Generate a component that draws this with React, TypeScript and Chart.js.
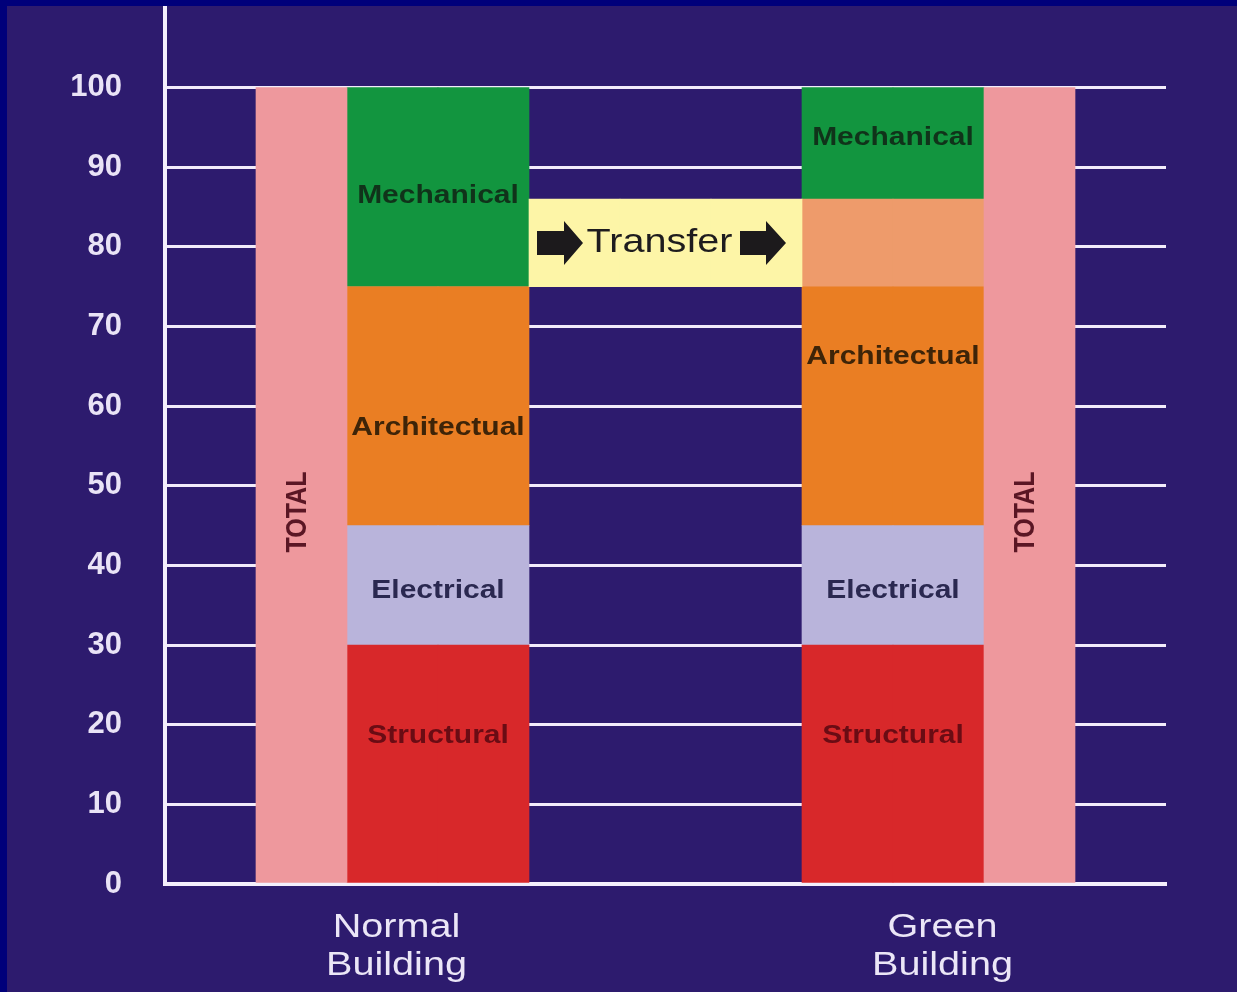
import { useEffect, useRef } from 'react';
import { Chart, registerables } from 'chart.js';

Chart.register(...registerables);

// Cost shares (percent of total) per building type
const buildings = ['Normal Building', 'Green Building'];
const structural = [30, 30];
const electrical = [15, 15];
const architectural = [30, 30];
const transferred = [0, 11];
const mechanical = [25, 14];
const totals = [100, 100];
const transferRange: [number, number] = [75, 86];
const yTickValues = [0, 10, 20, 30, 40, 50, 60, 70, 80, 90, 100];

// Horizontal slots: each building gets a TOTAL column and a two-slot stacked column,
// the transfer band sits in the three slots between them.
const slots = ['gap', 'total0', 'stack0', 'stack0', 'band', 'band', 'band', 'stack1', 'stack1', 'total1', 'gap'];

const segmentNames = ['Structural', 'Electrical', 'Architectual', 'Mechanical'];
const segmentValues = [structural, electrical, architectural, mechanical];
const segmentTextColors = ['#6a0c14', '#2a2850', '#3e2408', '#10331a'];
// value (percent) at which each segment caption sits, per building
const segmentLabelAt = [
  [18.6, 36.8, 57.2, 86.4],
  [18.6, 36.8, 66.1, 93.7],
];
const totalLabelAt = 46.7;

const TEXT_STRETCH = 1.2;
const FONT = '"Liberation Sans", Arial, sans-serif';

const fromStack = (arr: number[]) =>
  slots.map((s) => (s.startsWith('stack') ? arr[Number(s.slice(5))] : null));
const fromTotal = slots.map((s) => (s.startsWith('total') ? totals[Number(s.slice(5))] : null));
const bandData = slots.map((s) => (s === 'band' ? transferRange : null));

function slotSpan(chart: any, role: string) {
  const x = chart.scales.x;
  const idx = slots.map((s, i) => (s === role ? i : -1)).filter((i) => i >= 0);
  const w = x.getPixelForValue(1) - x.getPixelForValue(0);
  const left = x.getPixelForValue(idx[0]) - w / 2;
  const right = x.getPixelForValue(idx[idx.length - 1]) + w / 2;
  return { left, right, center: (left + right) / 2, w };
}

function stretchedText(
  ctx: CanvasRenderingContext2D,
  text: string,
  x: number,
  y: number,
  font: string,
  color: string,
  rotate = 0
) {
  ctx.save();
  ctx.translate(x, y);
  ctx.scale(TEXT_STRETCH, 1);
  if (rotate) ctx.rotate(rotate);
  ctx.font = font;
  ctx.fillStyle = color;
  ctx.textAlign = 'center';
  ctx.textBaseline = 'middle';
  ctx.fillText(text, 0, 0);
  ctx.restore();
}

function arrow(ctx: CanvasRenderingContext2D, x0: number, x1: number, headStart: number, cy: number) {
  ctx.beginPath();
  ctx.moveTo(x0, cy - 12);
  ctx.lineTo(headStart, cy - 12);
  ctx.lineTo(headStart, cy - 22);
  ctx.lineTo(x1, cy);
  ctx.lineTo(headStart, cy + 22);
  ctx.lineTo(headStart, cy + 12);
  ctx.lineTo(x0, cy + 12);
  ctx.closePath();
  ctx.fill();
}

const captionPlugin = {
  id: 'captions',
  afterDatasetsDraw(chart: any) {
    const { ctx, scales } = chart;
    const y = scales.y;

    buildings.forEach((_, b) => {
      const stack = slotSpan(chart, 'stack' + b);
      segmentNames.forEach((name, k) => {
        if (!segmentValues[k][b]) return;
        stretchedText(
          ctx,
          name,
          stack.center,
          y.getPixelForValue(segmentLabelAt[b][k]),
          `bold 25px ${FONT}`,
          segmentTextColors[k]
        );
      });
      const total = slotSpan(chart, 'total' + b);
      stretchedText(
        ctx,
        'TOTAL',
        total.center - 4,
        y.getPixelForValue(totalLabelAt),
        `bold 25px ${FONT}`,
        '#5a1624',
        -Math.PI / 2
      );
    });

    const band = slotSpan(chart, 'band');
    const cy = (y.getPixelForValue(transferRange[0]) + y.getPixelForValue(transferRange[1])) / 2;
    ctx.save();
    ctx.fillStyle = '#1c1a1c';
    arrow(ctx, band.left + 8, band.left + 54, band.left + 35, cy);
    arrow(ctx, band.right - 62, band.right - 16, band.right - 36, cy);
    ctx.restore();
    stretchedText(ctx, 'Transfer', band.center - 6, cy, `33px ${FONT}`, '#1e1c1e');
  },
  afterDraw(chart: any) {
    const { ctx, chartArea } = chart;
    buildings.forEach((name, b) => {
      const left = slotSpan(chart, 'total' + b);
      const right = slotSpan(chart, 'stack' + b);
      const cx = (Math.min(left.left, right.left) + Math.max(left.right, right.right)) / 2;
      const lines = name.split(' ');
      lines.forEach((line, i) => {
        stretchedText(ctx, line, cx + 4, chartArea.bottom + 44 + i * 38, `33px ${FONT}`, '#ebe6f7');
      });
    });
  },
};

export default function App() {
  const canvasRef = useRef<HTMLCanvasElement | null>(null);

  useEffect(() => {
    const canvas = canvasRef.current;
    if (!canvas) return;
    const bar = { barPercentage: 1, categoryPercentage: 1, borderWidth: 0 };
    const chart = new Chart(canvas, {
      type: 'bar',
      data: {
        labels: slots,
        datasets: [
          { label: 'Transfer', data: bandData as any, backgroundColor: '#fdf5a7', ...bar },
          { label: 'Total', data: fromTotal, backgroundColor: '#ee989d', ...bar },
          { label: 'Structural', data: fromStack(structural), backgroundColor: '#d8282a', ...bar },
          { label: 'Electrical', data: fromStack(electrical), backgroundColor: '#b9b4db', ...bar },
          { label: 'Architectual', data: fromStack(architectural), backgroundColor: '#ea7e23', ...bar },
          { label: 'Transferred', data: fromStack(transferred), backgroundColor: '#ee9b6b', ...bar },
          { label: 'Mechanical', data: fromStack(mechanical), backgroundColor: '#12953f', ...bar },
        ],
      },
      options: {
        animation: false,
        responsive: false,
        devicePixelRatio: 1,
        layout: { padding: { left: 0, right: 71, top: 2, bottom: 0 } },
        plugins: { legend: { display: false }, tooltip: { enabled: false } },
        scales: {
          x: {
            stacked: true,
            grid: { display: false },
            border: { display: true, color: '#f4effc', width: 4 },
            ticks: { display: false },
            afterFit: (scale: any) => {
              scale.height = 108;
            },
          },
          y: {
            stacked: true,
            min: 0,
            max: 110,
            grid: {
              drawTicks: false,
              lineWidth: 3,
              color: (c: any) => (yTickValues.includes(c.tick?.value) ? '#f2ecfb' : 'rgba(0,0,0,0)'),
            },
            border: { display: true, color: '#f4effc', width: 4 },
            ticks: {
              stepSize: 10,
              padding: 43,
              color: '#e9e3f6',
              font: { family: FONT, size: 31, weight: 'bold' },
              callback: (v: any) => (yTickValues.includes(Number(v)) ? String(v) : ''),
            },
            afterFit: (scale: any) => {
              scale.width = 158;
              scale.paddingTop = 0;
              scale.paddingBottom = 0;
            },
          },
        },
      },
      plugins: [captionPlugin],
    });
    return () => chart.destroy();
  }, []);

  return (
    <div style={{ position: 'fixed', left: 0, top: 0, width: 1237, height: 992, background: '#00007a' }}>
      <div style={{ position: 'absolute', left: 7, top: 6, width: 1230, height: 986, background: '#2d1b6e' }}>
        <canvas ref={canvasRef} width={1230} height={986} style={{ display: 'block' }} />
      </div>
    </div>
  );
}
